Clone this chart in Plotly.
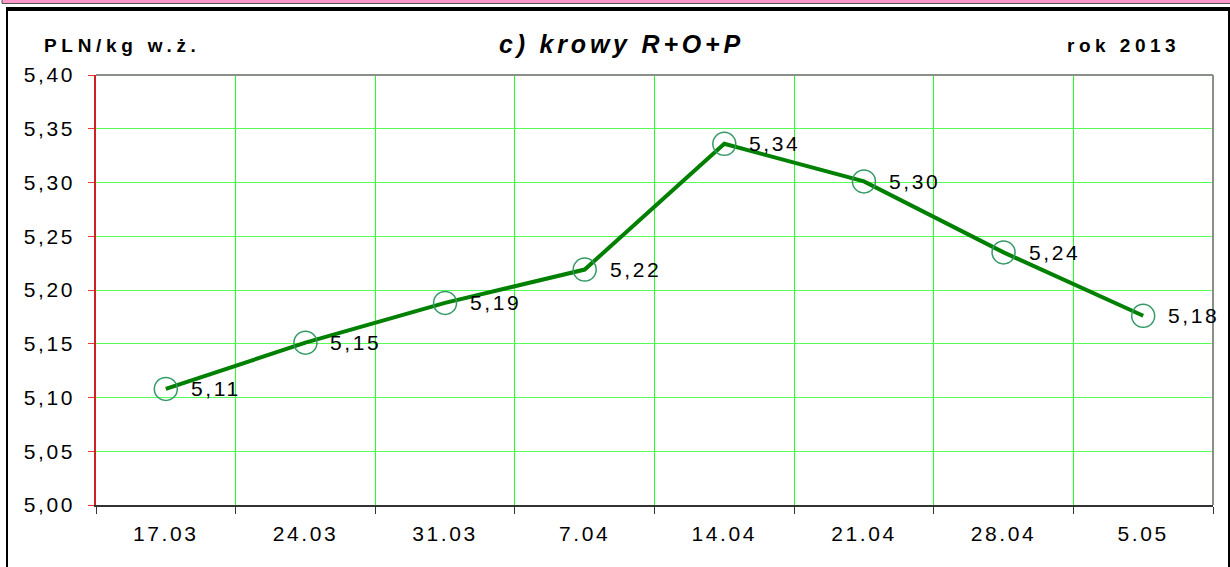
import plotly.graph_objects as go

categories = ["17.03", "24.03", "31.03", "7.04", "14.04", "21.04", "28.04", "5.05"]
prices = [5.108, 5.151, 5.188, 5.219, 5.336, 5.301, 5.235, 5.176]
y_ticks = [5.00, 5.05, 5.10, 5.15, 5.20, 5.25, 5.30, 5.35, 5.40]

y_title = "PLN/kg w.ż."
chart_title = "c) krowy R+O+P"
year_label = "rok 2013"

W, H = 1230, 567
L, R, T, B = 96, 1213, 75, 505
FONT = "Liberation Sans, Arial, sans-serif"


def px(x):
    return (x - L) / (R - L)


def py(y):
    return (B - y) / (B - T)


def spaced(text, sp):
    return f'<span style="letter-spacing:{sp}px">{text}</span>'


def comma(v):
    return f"{v:.2f}".replace(".", ",")


fig = go.Figure()
fig.add_trace(go.Scatter(
    x=categories, y=prices, mode="lines+markers",
    line=dict(color="#008000", width=4),
    marker=dict(symbol="circle-open", size=23, color="#339966",
                line=dict(width=1.5, color="#339966")),
    hoverinfo="skip", showlegend=False,
))

annotations = []
for i, v in enumerate(prices):
    annotations.append(dict(
        x=i, y=v, xref="x", yref="y", text=spaced(comma(v), 2.6),
        showarrow=False, xanchor="left", yanchor="middle", xshift=23, yshift=0,
        font=dict(family=FONT, size=21, color="#000000"),
    ))

annotations += [
    dict(x=px(42), y=py(45), xref="paper", yref="paper", text=spaced(y_title, 4.7),
         showarrow=False, xanchor="left", yanchor="middle",
         font=dict(family=FONT, size=19, color="#000000", weight="bold")),
    dict(x=px(497), y=py(44), xref="paper", yref="paper", text=spaced(chart_title, 3.8),
         showarrow=False, xanchor="left", yanchor="middle",
         font=dict(family=FONT, size=25, color="#000000", weight="bold", style="italic")),
    dict(x=px(1065), y=py(45), xref="paper", yref="paper", text=spaced(year_label, 4.5),
         showarrow=False, xanchor="left", yanchor="middle",
         font=dict(family=FONT, size=19, color="#000000", weight="bold")),
]

shapes = [
    # pink band at top
    dict(type="rect", xref="paper", yref="paper", x0=px(2), x1=px(1240), y0=py(3.5), y1=py(-10),
         fillcolor="#ff99cc", line=dict(color="#555555", width=1), layer="below"),
    # outer chart box
    dict(type="rect", xref="paper", yref="paper", x0=px(7), x1=px(1229), y0=py(600), y1=py(9),
         fillcolor="rgba(0,0,0,0)", line=dict(color="#000000", width=2), layer="below"),
    dict(type="line", xref="paper", yref="paper", x0=px(6), x1=px(1232), y0=py(9), y1=py(9),
         line=dict(color="#000000", width=4), layer="below"),
    # plot area border (top / right)
    dict(type="line", xref="paper", yref="paper", x0=0, x1=1, y0=1, y1=1,
         line=dict(color="#8a9088", width=2), layer="above"),
    dict(type="line", xref="paper", yref="paper", x0=1, x1=1, y0=0, y1=1,
         line=dict(color="#8a9088", width=2), layer="above"),
]

fig.update_layout(
    width=W, height=H,
    margin=dict(l=L, r=W - R, t=T, b=H - B, autoexpand=False),
    paper_bgcolor="#ffffff", plot_bgcolor="#ffffff",
    annotations=annotations, shapes=shapes,
    font=dict(family=FONT, color="#000000"),
)
fig.update_xaxes(
    type="category", tickson="boundaries", ticks="outside", ticklen=7, tickcolor="#333333",
    tickmode="array", tickvals=categories, ticktext=[spaced(c, 2.6) for c in categories],
    showgrid=True, gridcolor="#22ff22", gridwidth=1,
    showline=True, linecolor="#333333", linewidth=2,
    tickfont=dict(size=21, family=FONT, color="#000000"),
    ticklabelstandoff=9, range=[-0.5, 7.5], fixedrange=True, automargin=False,
)
fig.update_yaxes(
    range=[5.0, 5.4], tickmode="array", tickvals=y_ticks,
    ticktext=[spaced(comma(t), 2.6) for t in y_ticks],
    ticks="outside", ticklen=6, tickcolor="#ee3333",
    showgrid=True, gridcolor="#55ff55", gridwidth=1, zeroline=False,
    showline=True, linecolor="#cc2222", linewidth=1.5,
    tickfont=dict(size=21, family=FONT, color="#000000"),
    ticklabelstandoff=9, fixedrange=True, automargin=False,
)

fig.write_html(
    "out.html",
    config={"displayModeBar": False},
    post_script="document.body.style.margin='0';document.body.style.overflow='hidden';",
)
